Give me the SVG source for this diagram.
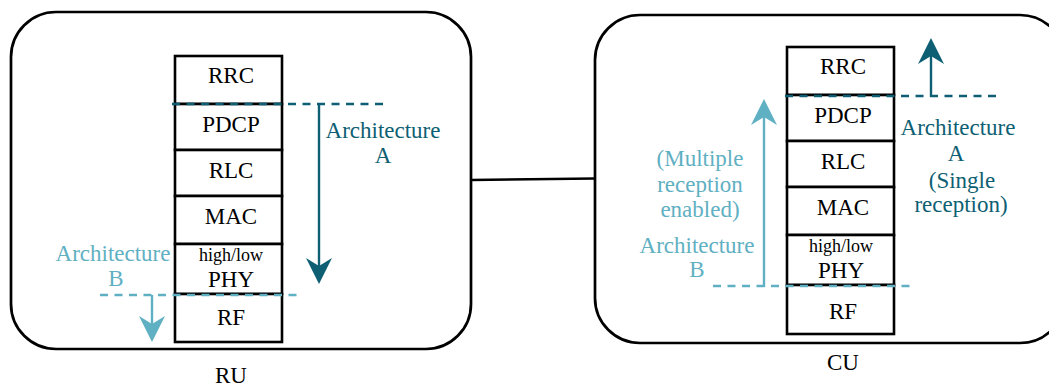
<svg xmlns="http://www.w3.org/2000/svg" width="1049" height="389" viewBox="0 0 1049 389">
<style>
.frame{fill:#fff;stroke:#000;stroke-width:2.7}
.layer{fill:#fff;stroke:#000;stroke-width:2.6}
.t{font-family:"Liberation Serif","Times New Roman",serif;font-size:23px;fill:#000;text-anchor:middle}
.s{font-size:18px}
.da{fill:#0e5f73}
.la{fill:#5fb0c2}
.dl{stroke:#0e5f73;stroke-width:2.4;fill:none}
.ll{stroke:#5fb0c2;stroke-width:2.4;fill:none}
.dash{stroke-dasharray:8 6.5}
</style>
<g id="connectors">
<line x1="471" y1="180" x2="595" y2="178.5" stroke="#000" stroke-width="2.4"/>
</g>
<g id="RU">
<rect class="frame" x="11" y="12" width="460" height="337" rx="45" ry="45"/>
<text class="t" x="231" y="383">RU</text>
</g>
<g id="CU">
<rect class="frame" x="595" y="15" width="470" height="328" rx="45" ry="45"/>
<text class="t" x="843" y="370">CU</text>
</g>
<g id="ru-stack">
<rect class="layer" x="175" y="56" width="107" height="48"/>
<rect class="layer" x="175" y="104" width="107" height="46"/>
<rect class="layer" x="175" y="150" width="107" height="46"/>
<rect class="layer" x="175" y="196" width="107" height="48"/>
<rect class="layer" x="175" y="244" width="107" height="50"/>
<rect class="layer" x="175" y="294" width="107" height="48"/>
<text class="t" x="231" y="83">RRC</text>
<text class="t" x="231" y="132">PDCP</text>
<text class="t" x="231" y="178">RLC</text>
<text class="t" x="231" y="224">MAC</text>
<text class="t s" x="231" y="261">high/low</text>
<text class="t" x="231" y="287">PHY</text>
<text class="t" x="231" y="325">RF</text>
</g>
<g id="cu-stack">
<rect class="layer" x="787" y="47" width="107" height="48"/>
<rect class="layer" x="787" y="95" width="107" height="46"/>
<rect class="layer" x="787" y="141" width="107" height="46"/>
<rect class="layer" x="787" y="187" width="107" height="48"/>
<rect class="layer" x="787" y="235" width="107" height="50"/>
<rect class="layer" x="787" y="285" width="107" height="49"/>
<text class="t" x="843" y="74">RRC</text>
<text class="t" x="843" y="123">PDCP</text>
<text class="t" x="843" y="169">RLC</text>
<text class="t" x="843" y="215">MAC</text>
<text class="t s" x="841" y="252">high/low</text>
<text class="t" x="841" y="278">PHY</text>
<text class="t" x="843" y="319">RF</text>
</g>
<g id="ru-arch-a">
<line class="dl dash" x1="172" y1="104" x2="385" y2="104"/>
<line class="dl" x1="319" y1="103" x2="319" y2="270"/>
<path class="da" d="M319 284 L306 258 L319 266 L332 258 Z"/>
<text class="t da" x="383" y="138">Architecture</text>
<text class="t da" x="383" y="163">A</text>
</g>
<g id="ru-arch-b">
<line class="ll dash" x1="100" y1="295" x2="300" y2="295"/>
<line class="ll" x1="152" y1="295" x2="152" y2="330"/>
<path class="la" d="M152 342 L139 316 L152 324 L165 316 Z"/>
<text class="t la" x="113" y="261">Architecture</text>
<text class="t la" x="116" y="286">B</text>
</g>
<g id="cu-arch-a">
<line class="dl dash" x1="785" y1="96" x2="997" y2="96"/>
<line class="dl" x1="931" y1="97" x2="931" y2="52"/>
<path class="da" d="M931 38 L918 64 L931 56 L944 64 Z"/>
<text class="t da" x="958" y="135">Architecture</text>
<text class="t da" x="956" y="161">A</text>
<text class="t da" x="962" y="188">(Single</text>
<text class="t da" x="961" y="212">reception)</text>
</g>
<g id="cu-arch-b">
<line class="ll dash" x1="713" y1="286" x2="913" y2="286"/>
<line class="ll" x1="764" y1="287" x2="764" y2="112"/>
<path class="la" d="M764 99 L751 125 L764 117 L777 125 Z"/>
<text class="t la" x="700" y="166">(Multiple</text>
<text class="t la" x="700" y="192">reception</text>
<text class="t la" x="700" y="217">enabled)</text>
<text class="t la" x="697" y="253">Architecture</text>
<text class="t la" x="697" y="277">B</text>
</g>
</svg>
